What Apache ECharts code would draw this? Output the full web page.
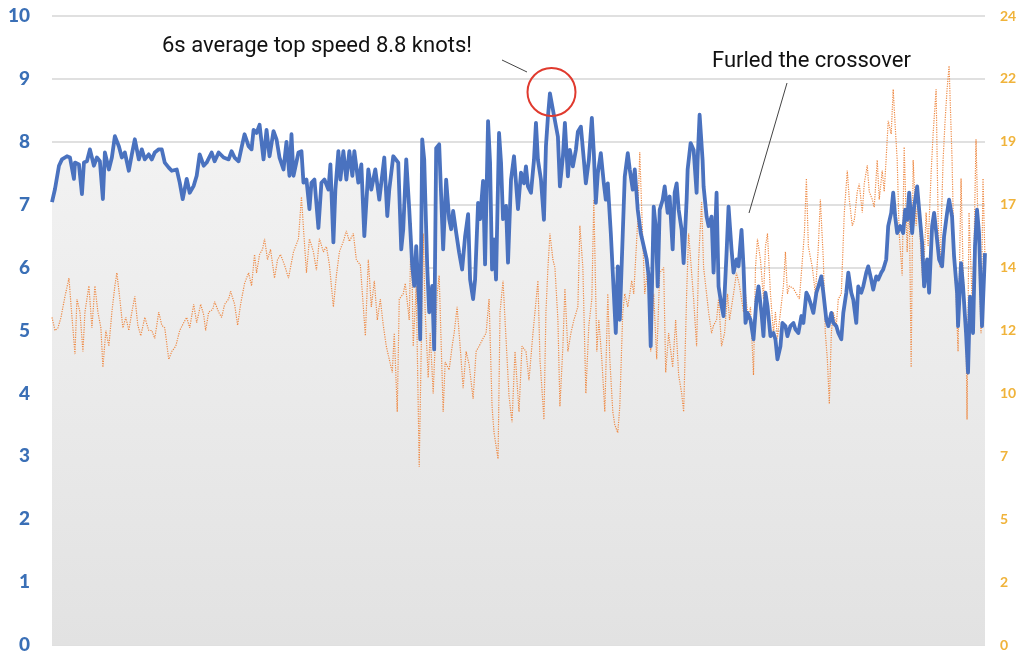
<!DOCTYPE html>
<html>
<head>
<meta charset="utf-8">
<style>html,body{margin:0;padding:0;background:#fff;}#c{width:1024px;height:665px;}</style>
<script src="https://cdn.jsdelivr.net/npm/echarts@6/dist/echarts.min.js"></script>
</head>
<body>
<div id="c"></div>
<script>
// Boat speed (knots, left axis) vs. sample index
const boatSpeed = [[0,7.04],[3,7.25],[7,7.62],[10,7.72],[15,7.77],[18,7.75],[22,7.41],[23,7.67],[27,7.64],[30,7.17],[32,7.67],[35,7.69],[38,7.88],[42,7.62],[45,7.75],[48,7.69],[51,7.09],[53,7.83],[57,7.56],[60,7.75],[63,8.09],[67,7.93],[70,7.75],[73,7.83],[77,7.54],[80,7.80],[83,8.04],[87,7.72],[90,7.88],[93,7.72],[97,7.80],[100,7.72],[103,7.83],[107,7.88],[110,7.88],[113,7.67],[117,7.59],[120,7.54],[125,7.56],[128,7.35],[131,7.09],[135,7.41],[138,7.19],[142,7.30],[145,7.46],[148,7.80],[152,7.62],[155,7.67],[160,7.83],[163,7.69],[167,7.83],[172,7.75],[177,7.72],[180,7.85],[183,7.75],[187,7.69],[190,7.91],[193,8.12],[197,7.93],[200,7.88],[202,8.19],[205,8.14],[208,8.27],[212,7.72],[215,8.19],[218,7.77],[222,8.17],[225,8.04],[228,7.75],[232,7.56],
[235,8.0],[238,7.46],[240,8.12],[242,7.46],[247,7.83],[250,7.85],[252,7.35],[255,7.40],[258,6.93],[260,7.35],[263,7.40],[267,6.63],[270,7.35],[273,7.40],[277,7.24],[279,7.64],[282,6.40],[284,7.24],[287,7.85],[289,7.40],[292,7.85],[295,7.40],[298,7.85],[301,7.46],[303,7.85],[307,7.35],[310,7.64],[313,6.50],[317,7.56],[320,7.24],[324,7.56],[328,7.08],[333,7.75],[336,6.82],[338,7.24],[342,7.77],[347,7.67],[350,6.29],[352,6.61],[355,7.72],[358,6.93],[361,6.03],[363,5.71],[365,6.34],[368,5.39],[369,4.86],[371,8.04],[373,7.72],[376,6.03],[378,5.29],[381,5.71],[383,4.70],[385,7.90],[388,7.96],[390,7.14],[392,6.29],[395,7.40],[398,6.77],[400,6.61],[402,6.90],[405,6.56],[408,6.24],[411,5.97],[414,6.50],[417,6.85],[419,5.81],[422,5.50],[424,5.81],[427,7.03],[429,6.77],[432,7.38],[434,6.05],[437,8.33],[439,7.67],[441,5.97],[443,6.45],[445,5.81],[448,8.14],[450,7.67],[452,6.77],[455,6.98],[457,6.08],[460,7.40],[463,7.77],[467,6.93],[470,7.51],
[473,7.34],[475,7.61],[477,7.29],[480,7.19],[483,7.71],[485,8.30],[487,7.71],[490,7.40],[493,6.76],[495,7.93],[497,8.40],[499,8.77],[502,8.51],[504,8.51],[507,8.08],[509,7.29],[512,7.77],[514,8.30],[517,7.45],[519,7.87],[522,7.61],[525,7.87],[527,8.16],[530,8.24],[533,7.71],[535,7.34],[538,7.71],[541,8.38],[543,7.82],[545,7.03],[547,7.50],[550,7.82],[553,7.34],[555,7.08],[557,7.34],[560,6.55],[563,5.60],[565,4.96],[567,6.02],[569,5.17],[572,6.55],[574,7.45],[577,7.82],[579,7.56],[582,7.24],[584,7.56],[587,6.92],[590,6.55],[593,6.34],[596,6.13],[598,5.86],[600,4.75],[603,6.97],[605,6.66],[607,5.70],[609,6.92],[612,7.08],[614,7.29],[617,6.87],[619,7.13],[622,6.29],[624,7.19],[626,7.34],[628,6.92],[631,6.60],[633,6.07],[636,7.08],[637,7.56],[640,7.98],[643,7.87],[646,7.19],[647,7.71],[649,8.43],[652,7.71],[653,7.29],[656,6.81],[658,6.66],[661,6.81],[663,5.92],[666,7.19],[668,5.70],[671,5.39],[673,5.23],[676,6.23],[678,6.97],[681,6.29],[683,5.92],[686,6.13],[688,6.02],[691,6.60],[693,6.02],[695,5.12],[697,5.28],
[700,5.17],[703,4.86],[706,5.49],[708,5.70],[711,5.28],[713,4.91],[715,5.60],[717,5.39],[720,4.91],[723,4.96],[725,4.86],[727,4.54],[730,4.75],[732,5.12],[735,5.07],[737,4.91],[740,5.07],[743,5.12],[745,5.02],[748,4.96],[751,5.23],[753,5.12],[756,5.60],[758,5.54],[761,5.39],[763,5.28],[766,5.60],[768,5.70],[771,5.86],[773,5.60],[776,5.17],[778,5.07],[781,5.28],[783,5.12],[786,5.07],[788,4.96],[791,4.86],[793,5.28],[796,5.60],[798,5.92],[801,5.60],[803,5.49],[806,5.12],[808,5.70],[811,5.60],[813,5.70],[816,5.92],[818,6.02],[821,5.81],[823,5.65],[826,5.86],[828,5.81],[831,5.92],[833,5.97],[836,6.13],[838,6.66],[841,6.87],[843,7.19],[845,6.81],[847,6.55],[850,6.66],[853,6.55],[855,6.92],[857,6.76],[859,7.19],[862,6.55],[864,6.97],[867,7.29],[869,6.92],[872,6.39],[874,5.70],[877,6.13],[879,5.60],[882,6.66],[884,6.87],[887,6.44],[889,6.13],[892,6.02],[894,6.50],[897,6.87],[899,7.08],[902,6.81],[904,6.18],[907,5.60],[908,5.07],[911,6.07],[913,5.70],[916,4.96],[918,4.33],[920,5.54],[923,4.96],[925,6.34],[927,6.92],[929,6.55],[932,5.07],[935,6.23]];

// Wind speed (knots, right axis) vs. sample index
const windSpeed = [[0,12.5],[3,12.0],[6,12.1],[9,12.5],[13,13.3],[17,14.0],[19,13.0],[23,11.1],[25,13.2],[28,12.7],[31,11.2],[33,12.7],[37,13.7],[40,12.1],[43,13.7],[46,12.7],[49,12.1],[51,10.6],[54,12.0],[57,11.4],[60,12.7],[63,13.7],[65,14.2],[68,13.2],[71,12.1],[74,12.5],[77,12.0],[80,12.7],[83,13.3],[86,12.2],[89,11.8],[93,12.5],[97,12.0],[100,12.0],[103,11.7],[107,12.7],[110,12.2],[113,12.1],[117,10.9],[120,11.2],[124,11.4],[128,12.0],[132,12.3],[135,12.5],[138,12.1],[142,13.0],[145,12.3],[149,13.0],[152,12.6],[154,12.0],[157,12.7],[161,12.8],[163,13.1],[167,12.7],[170,12.5],[173,13.0],[177,13.2],[179,13.5],[183,13.0],[186,12.2],[189,13.0],[193,13.8],[197,14.2],[200,13.7],[203,14.9],[205,14.2],[208,14.9],[211,15.1],[213,15.5],[216,14.7],[219,15.1],[223,14.0],[226,14.7],[229,14.9],[233,14.5],[237,14.0],
[242,15.0],[247,15.5],[250,17.1],[252,15.9],[255,14.2],[258,15.5],[262,15.0],[265,14.3],[268,15.5],[272,15.0],[275,15.2],[278,14.5],[282,12.9],[285,14.1],[288,15.0],[292,15.4],[295,15.8],[298,15.4],[302,15.7],[305,14.7],[309,14.5],[312,12.9],[314,11.8],[317,14.7],[320,12.9],[323,13.9],[326,12.4],[329,13.2],[332,12.2],[335,11.4],[338,10.9],[341,10.4],[343,11.9],[346,8.9],[348,13.2],[352,13.4],[354,13.8],[358,12.4],[360,16.1],[362,11.4],[365,13.7],[368,6.8],[372,15.7],[374,12.7],[377,10.2],[379,11.9],[382,9.6],[386,13.4],[388,14.1],[392,8.9],[394,10.8],[398,10.5],[401,11.4],[403,11.9],[406,12.9],[409,11.4],[412,9.8],[415,11.2],[418,10.7],[422,9.4],[425,11.2],[428,11.4],[432,11.7],[435,11.9],[438,13.2],[441,9.1],[443,8.1],[447,7.1],[449,12.7],[452,13.9],[454,12.4],[458,9.5],[461,8.5],[464,11.2],[468,8.9],[471,11.4],
[475,11.2],[478,10.1],[482,11.9],[484,12.7],[487,13.9],[489,10.9],[493,8.6],[495,12.7],[497,14.4],[499,15.7],[502,14.7],[504,14.4],[507,12.4],[509,9.1],[512,11.4],[514,13.6],[517,11.2],[520,11.9],[523,12.4],[527,12.9],[529,16.0],[532,14.4],[535,9.6],[538,12.2],[541,13.2],[543,17.0],[546,11.2],[548,12.4],[551,10.9],[554,8.9],[557,13.4],[559,10.9],[562,8.9],[564,8.4],[567,8.1],[569,9.1],[572,12.7],[574,13.4],[577,12.9],[581,13.9],[583,13.4],[587,16.2],[589,18.8],[592,15.5],[594,13.4],[597,14.4],[600,11.2],[603,13.4],[606,10.9],[609,14.2],[613,14.4],[615,10.4],[618,11.9],[622,10.6],[625,12.4],[628,10.3],[631,9.6],[633,8.9],[636,13.4],[638,15.7],[641,14.2],[643,13.2],[646,11.4],[648,14.7],[651,16.9],[653,14.4],[656,13.4],[658,12.7],[661,11.9],[663,12.2],[666,12.4],[668,13.2],[671,11.4],[674,11.9],[677,13.4],[679,12.4],[683,13.4],[686,14.2],[689,13.7],[693,12.7],[695,13.4],[698,12.4],
[700,12.9],[703,10.3],[705,14.4],[707,15.5],[710,14.7],[713,13.2],[715,15.2],[717,15.7],[720,13.4],[723,11.9],[725,12.7],[727,11.7],[730,12.7],[733,13.7],[735,15.0],[737,13.4],[739,13.7],[743,13.6],[746,13.4],[749,13.2],[752,14.7],[754,15.7],[756,17.8],[758,15.2],[762,14.4],[765,13.4],[768,15.2],[770,17.0],[773,14.7],[775,11.9],[777,10.9],[779,9.2],[781,11.9],[783,12.7],[786,12.2],[788,13.2],[791,13.4],[794,16.5],[797,18.1],[799,17.0],[802,16.0],[804,16.2],[807,17.3],[809,17.6],[812,16.5],[814,17.6],[817,18.3],[819,17.3],[822,17.0],[824,16.7],[827,18.5],[829,17.0],[832,18.1],[834,17.3],[836,18.6],[838,20.0],[841,19.5],[843,21.2],[845,19.8],[847,18.5],[849,15.7],[852,14.1],[854,19.0],[857,15.0],[859,17.3],[861,10.6],[863,18.5],[866,16.0],[868,17.3],[871,14.7],[873,13.7],[876,16.5],[878,15.2],[881,18.0],[883,19.5],[886,21.2],[888,16.2],[890,14.4],[893,18.5],[895,20.0],[897,21.2],[899,22.1],[902,18.5],[904,14.7],[906,13.4],[908,11.2],[911,17.8],[913,14.4],[916,11.9],[917,8.6],[919,16.5],[922,13.2],[924,15.2],[926,19.3],[928,16.0],[931,11.9],[933,17.8],[935,14.7]];

const leftTicks = {min: 0, max: 10, interval: 1};
const rightTicks = {min: 0, max: 24, interval: 2.4};
const annotations = {
  peak: '6s average top speed 8.8 knots!',
  furl: 'Furled the crossover'
};

const chart = echarts.init(document.getElementById('c'), null, {renderer: 'canvas'});
chart.setOption({
  animation: false,
  backgroundColor: '#ffffff',
  grid: {left: 52, right: 39, top: 16, bottom: 20, containLabel: false},
  xAxis: {
    type: 'value', min: 0, max: 935,
    axisLine: {show: false}, axisTick: {show: false}, axisLabel: {show: false}, splitLine: {show: false}
  },
  yAxis: [
    {
      type: 'value', min: leftTicks.min, max: leftTicks.max, interval: leftTicks.interval,
      axisLine: {show: false}, axisTick: {show: false},
      axisLabel: {color: '#3a6fb6', fontSize: 19, fontWeight: 900, fontFamily: 'Lato', margin: 22},
      splitLine: {show: true, lineStyle: {color: '#d6d6d6', width: 1.5}}
    },
    {
      type: 'value', min: rightTicks.min, max: rightTicks.max, interval: rightTicks.interval,
      position: 'right',
      axisLine: {show: false}, axisTick: {show: false},
      axisLabel: {color: '#f0b33a', fontSize: 14, fontWeight: 'bold', fontFamily: 'Lato', margin: 15,
        formatter: v => String(Math.round(v))},
      splitLine: {show: false}
    }
  ],
  series: [
    {
      name: 'speedArea', type: 'line', data: boatSpeed, yAxisIndex: 0,
      showSymbol: false, symbol: 'none', silent: true, z: 1,
      lineStyle: {width: 0, opacity: 0},
      areaStyle: {color: new echarts.graphic.LinearGradient(0, 0, 0, 1, [
        {offset: 0, color: '#f4f4f4'}, {offset: 1, color: '#e2e2e2'}]), opacity: 1}
    },
    {
      name: 'Wind', type: 'line', data: windSpeed, yAxisIndex: 1,
      showSymbol: false, symbol: 'none', z: 2,
      lineStyle: {color: '#ee8a45', width: 1.2, type: 'dotted'}
    },
    {
      name: 'Speed', type: 'line', data: boatSpeed, yAxisIndex: 0,
      showSymbol: false, symbol: 'none', z: 3,
      lineStyle: {color: '#4a72bf', width: 3.8, join: 'round'}
    }
  ],
  graphic: [
    {type: 'text', left: 162, top: 35, z: 10,
      style: {text: annotations.peak, fill: '#111', fontSize: 22, fontFamily: 'Roboto'}},
    {type: 'line', z: 10, shape: {x1: 502, y1: 60, x2: 527, y2: 72}, style: {stroke: '#444', lineWidth: 1}},
    {type: 'circle', z: 10, shape: {cx: 551.5, cy: 92, r: 24}, style: {fill: 'none', stroke: '#e03a2e', lineWidth: 2}},
    {type: 'text', left: 712, top: 50, z: 10,
      style: {text: annotations.furl, fill: '#111', fontSize: 22, fontFamily: 'Roboto'}},
    {type: 'line', z: 10, shape: {x1: 787, y1: 83, x2: 749, y2: 213}, style: {stroke: '#444', lineWidth: 1}}
  ]
});
</script>
</body>
</html>
